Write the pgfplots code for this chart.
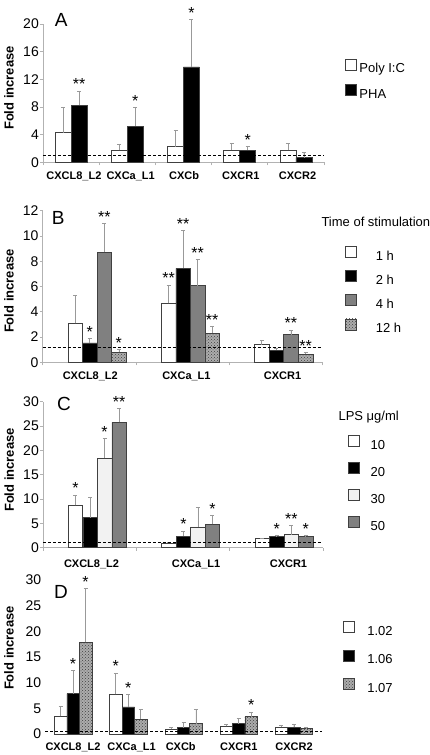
\documentclass[border=0pt]{standalone}
\usepackage{fontspec}
\setmainfont{Liberation Sans}
\usepackage{pgfplots}
\pgfplotsset{compat=1.18}
\usetikzlibrary{patterns}

\pgfplotsset{
  panel/.style={
    scale only axis, clip=false,
    axis x line*=bottom, axis y line*=left,
    axis line style={draw=gray!60, line width=0.7pt},
    tick style={draw=gray!60, line width=0.7pt},
    tick align=outside,
    major tick length=3pt,
    ymin=0,
    xticklabels={},
    /pgf/number format/assume math mode=true,
    yticklabel style={font=\fontsize{14}{14}\selectfont, inner xsep=1pt},
    every axis y label/.style={rotate=90, anchor=center, font=\bfseries\fontsize{13}{13}\selectfont},
    legend style={draw=none, fill=none, anchor=north west, inner sep=0pt,
      font=\fontsize{13}{13}\selectfont,
      nodes={inner sep=0pt, text height=10pt, text depth=3pt},
      cells={anchor=west}},
    legend cell align=left,
  },
  barplot/.style={
    ybar, bar shift=0pt, bar width=#1, draw=gray!50!black, line width=0.5pt,
    error bars/.cd, y dir=plus, y explicit,
    error bar style={draw=gray!80, line width=0.7pt},
    error mark options={rotate=90, draw=gray!80, mark size=2pt, line width=0.7pt},
    /pgfplots/.cd,
    legend image code/.code={\draw[##1] (0pt,-0.5pt) rectangle (11pt,10.5pt);},
  },
  hatched/.style={fill=gray!65, postaction={pattern=crosshatch dots, pattern color=black!75}},
  refline/.style={black, dash pattern=on 3pt off 2pt, line width=0.6pt, forget plot},
}
\tikzset{
  star/.style={anchor=south, inner sep=1pt, font=\fontsize{16}{16}\selectfont},
  cat/.style={anchor=north, inner sep=0pt, text height=8pt, text depth=2pt, font=\bfseries\fontsize{11}{11}\selectfont},
}

\begin{document}
\begin{tikzpicture}
\useasboundingbox (0,0) rectangle (430pt,755pt);

% ---------------- Panel A ----------------
\begin{axis}[panel, at={(43pt,592.5pt)}, anchor=south west, width=281pt, height=138.5pt,
  xmin=-0.5, xmax=4.5, ymax=20, ytick={0,4,...,20},
  xtick={-0.5,0.5,...,4.5},
  ylabel={Fold increase}, ylabel style={at={(axis description cs:-0.121,0.538)}},
  legend style={at={(axis description cs:1.075,0.751)}, row sep=8pt,
    /tikz/every odd column/.append style={column sep=2.7pt}},
]
\addplot[barplot=16pt, fill=white] coordinates {(-0.142,4.3) +- (0,3.7) (0.858,1.8) +- (0,0.8) (1.858,2.3) +- (0,2.3) (2.858,1.8) +- (0,0.9) (3.858,1.8) +- (0,0.9)};
\addlegendentry{Poly I:C}
\addplot[barplot=16pt, fill=black] coordinates {(0.142,8.3) +- (0,2.0) (1.142,5.25) +- (0,2.65) (2.142,13.8) +- (0,6.8) (3.142,1.8) +- (0,0.5) (4.142,0.7) +- (0,0.8)};
\addlegendentry{PHA}
\addplot[refline] coordinates {(-0.5,1) (4.5,1)};
\node[star] at (axis cs:0.142,10.3) {**};
\node[star] at (axis cs:1.142,7.9) {*};
\node[star] at (axis cs:2.142,20.6) {*};
\node[star] at (axis cs:3.142,2.3) {*};
\node[cat, yshift=-8.5pt] at (axis cs:0.05,0) {CXCL8\_L2};
\node[cat, yshift=-8.5pt] at (axis cs:1.06,0) {CXCa\_L1};
\node[cat, yshift=-8.5pt] at (axis cs:2.01,0) {CXCb};
\node[cat, yshift=-8.5pt] at (axis cs:3.02,0) {CXCR1};
\node[cat, yshift=-8.5pt] at (axis cs:4.03,0) {CXCR2};
\end{axis}

% ---------------- Panel B ----------------
\begin{axis}[panel, at={(42.7pt,392.7pt)}, anchor=south west, width=280pt, height=151.6pt,
  xmin=-0.5, xmax=2.5, ymax=12, ytick={0,2,...,12},
  xtick={-0.5,0.5,1.5,2.5},
  ylabel={Fold increase}, ylabel style={at={(axis description cs:-0.120,0.47)}},
  legend style={at={(axis description cs:1.080,0.770)}, row sep=7pt,
    /tikz/every odd column/.append style={column sep=19pt}},
]
\addplot[barplot=14.6pt, fill=white] coordinates {(-0.152,3.09) +- (0,2.19) (0.848,4.67) +- (0,1.45) (1.848,1.40) +- (0,0.31)};
\addlegendentry{1 h}
\addplot[barplot=14.6pt, fill=black] coordinates {(0.004,1.53) +- (0,0.34) (1.004,7.44) +- (0,2.98) (2.004,0.97) +- (0,0.16)};
\addlegendentry{2 h}
\addplot[barplot=14.6pt, fill=black!50] coordinates {(0.16,8.73) +- (0,2.25) (1.16,6.07) +- (0,2.08) (2.16,2.2) +- (0,0.36)};
\addlegendentry{4 h}
\addplot[barplot=14.6pt, hatched] coordinates {(0.316,0.79) +- (0,0.24) (1.316,2.30) +- (0,0.55) (2.316,0.63) +- (0,0.16)};
\addlegendentry{12 h}
\addplot[refline] coordinates {(-0.5,1.15) (2.5,1.15)};
\node[star] at (axis cs:0.004,1.87) {*};
\node[star] at (axis cs:0.16,10.98) {**};
\node[star] at (axis cs:0.316,1.03) {*};
\node[star] at (axis cs:0.848,6.12) {**};
\node[star] at (axis cs:1.004,10.42) {**};
\node[star] at (axis cs:1.16,8.15) {**};
\node[star] at (axis cs:1.316,2.85) {**};
\node[star] at (axis cs:2.16,2.56) {**};
\node[star] at (axis cs:2.316,0.79) {**};
\node[cat, yshift=-8.7pt] at (axis cs:0.01,0) {CXCL8\_L2};
\node[cat, yshift=-8.7pt] at (axis cs:1.04,0) {CXCa\_L1};
\node[cat, yshift=-8.7pt] at (axis cs:2.07,0) {CXCR1};
\end{axis}

% ---------------- Panel C ----------------
\begin{axis}[panel, at={(43pt,207.3pt)}, anchor=south west, width=280pt, height=146pt,
  xmin=-0.5, xmax=2.5, ymax=30, ytick={0,5,...,30},
  xtick={-0.5,0.5,1.5,2.5},
  ylabel={Fold increase}, ylabel style={at={(axis description cs:-0.121,0.532)}},
  legend style={at={(axis description cs:1.089,0.771)}, row sep=9.7pt,
    /tikz/every odd column/.append style={column sep=11pt}},
]
\addplot[barplot=14.5pt, fill=white] coordinates {(-0.152,8.7) +- (0,2.1) (0.848,1.0) +- (0,0.1) (1.848,1.85) +- (0,0.15)};
\addlegendentry{10}
\addplot[barplot=14.5pt, fill=black] coordinates {(0.004,6.2) +- (0,4.1) (1.004,2.4) +- (0,1.0) (2.004,2.4) +- (0,0.05)};
\addlegendentry{20}
\addplot[barplot=14.5pt, fill=gray!10] coordinates {(0.16,18.4) +- (0,4.0) (1.16,4.3) +- (0,3.9) (2.16,2.7) +- (0,1.8)};
\addlegendentry{30}
\addplot[barplot=14.5pt, fill=black!50] coordinates {(0.316,25.75) +- (0,2.85) (1.316,4.8) +- (0,1.8) (2.316,2.26) +- (0,0.24)};
\addlegendentry{50}
\addplot[refline] coordinates {(-0.5,1.1) (2.5,1.1)};
\node[star] at (axis cs:-0.152,10.8) {*};
\node[star] at (axis cs:0.16,22.4) {*};
\node[star] at (axis cs:0.316,28.6) {**};
\node[star] at (axis cs:1.004,3.4) {*};
\node[star] at (axis cs:1.316,6.6) {*};
\node[star] at (axis cs:2.004,2.45) {*};
\node[star] at (axis cs:2.16,4.5) {**};
\node[star] at (axis cs:2.316,2.5) {*};
\node[cat, yshift=-11.3pt] at (axis cs:0.02,0) {CXCL8\_L2};
\node[cat, yshift=-11.3pt] at (axis cs:1.14,0) {CXCa\_L1};
\node[cat, yshift=-11.3pt] at (axis cs:2.13,0) {CXCR1};
\end{axis}

% ---------------- Panel D ----------------
\begin{axis}[panel, at={(45.4pt,21pt)}, anchor=south west, width=276.2pt, height=154pt,
  axis line style={draw=none}, tick style={draw=none},
  xmin=-0.5, xmax=4.5, ymax=30, ytick={0,5,...,30}, xtick=\empty,
  ylabel={Fold increase}, ylabel style={at={(axis description cs:-0.132,0.558)}},
  legend style={at={(axis description cs:1.076,0.735)}, row sep=11.4pt,
    /tikz/every odd column/.append style={column sep=13pt}},
]
\addplot[barplot=12.5pt, fill=white] coordinates {(-0.226,3.44) +- (0,1.86) (0.774,7.7) +- (0,4.2) (1.774,0.9) +- (0,0.3) (2.774,1.5) +- (0,0.45) (3.774,1.36) +- (0,0.24)};
\addlegendentry{1.02}
\addplot[barplot=12.5pt, fill=black] coordinates {(0,7.86) +- (0,4.54) (1,5.26) +- (0,2.4) (2,1.23) +- (0,1.04) (3,2.0) +- (0,1.05) (4,1.36) +- (0,0.59)};
\addlegendentry{1.06}
\addplot[barplot=12.5pt, hatched] coordinates {(0.226,17.86) +- (0,10.44) (1.226,2.9) +- (0,1.97) (2.226,2.0) +- (0,2.87) (3.226,3.4) +- (0,0.9) (4.226,1.04) +- (0,0.19)};
\addlegendentry{1.07}
\addplot[refline] coordinates {(-0.5,0.5) (4.5,0.5)};
\node[star] at (axis cs:0,12.4) {*};
\node[star] at (axis cs:0.226,28.3) {*};
\node[star] at (axis cs:0.774,11.9) {*};
\node[star] at (axis cs:1,7.66) {*};
\node[star] at (axis cs:3.226,4.3) {*};
\node[cat, yshift=-8pt] at (axis cs:0,0) {CXCL8\_L2};
\node[cat, yshift=-8pt] at (axis cs:1.06,0) {CXCa\_L1};
\node[cat, yshift=-8pt] at (axis cs:1.95,0) {CXCb};
\node[cat, yshift=-8pt] at (axis cs:3,0) {CXCR1};
\node[cat, yshift=-8pt] at (axis cs:4,0) {CXCR2};
\end{axis}

% panel letters and legend titles
\node[font=\fontsize{19}{19}\selectfont] at (61.3pt,735pt) {A};
\node[font=\fontsize{19}{19}\selectfont] at (58.3pt,537.5pt) {B};
\node[font=\fontsize{19}{19}\selectfont] at (64pt,351pt) {C};
\node[font=\fontsize{19}{19}\selectfont] at (61pt,163pt) {D};
\node[anchor=west, font=\fontsize{13}{13}\selectfont] at (318pt,533pt) {Time of stimulation};
\node[anchor=west, font=\fontsize{13}{13}\selectfont] at (335pt,338pt) {LPS μg/ml};
\end{tikzpicture}
\end{document}
